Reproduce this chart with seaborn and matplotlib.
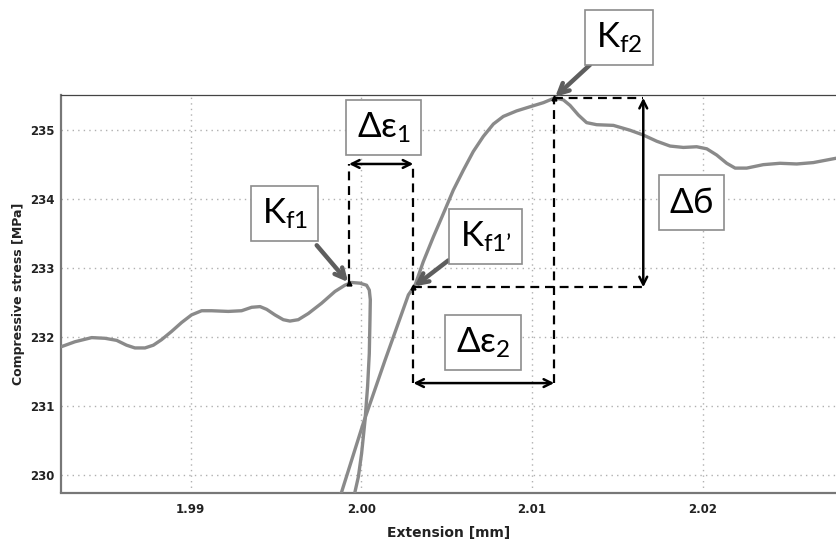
import matplotlib
matplotlib.use("Agg")
import matplotlib.pyplot as plt
import numpy as np
import pandas as pd
import seaborn as sns

# Stress-extension trace before the first load drop (Kf1) and its fall-off
ext_a = [1.98245, 1.98323, 1.98421, 1.98499, 1.98567, 1.98625, 1.98674, 1.98733,
         1.98782, 1.98830, 1.98889, 1.98948, 1.99006, 1.99065, 1.99123, 1.99221,
         1.99299, 1.99358, 1.99407, 1.99446, 1.99494, 1.99543, 1.99582, 1.99631,
         1.99690, 1.99768, 1.99846, 1.99904, 1.99944, 1.99992, 2.00031, 2.00047,
         2.00053, 2.00051, 2.00047, 2.00037, 2.00022, 2.00002, 1.99983, 1.99963]
stress_a = [231.86, 231.93, 231.99, 231.98, 231.95, 231.88, 231.84, 231.84,
            231.88, 231.96, 232.08, 232.21, 232.32, 232.38, 232.38, 232.37,
            232.38, 232.43, 232.44, 232.40, 232.32, 232.25, 232.23, 232.25,
            232.34, 232.49, 232.66, 232.75, 232.79, 232.78, 232.75, 232.68,
            232.54, 232.25, 231.76, 231.28, 230.79, 230.31, 229.97, 229.75]

# Reloading branch through Kf1' up to Kf2 and beyond
ext_b = [1.99870, 1.99885, 2.00012, 2.00139, 2.00276, 2.00315, 2.00363, 2.00422,
         2.00481, 2.00539, 2.00598, 2.00656, 2.00715, 2.00774, 2.00832, 2.00910,
         2.00988, 2.01067, 2.01135, 2.01184, 2.01223, 2.01272, 2.01320, 2.01379,
         2.01477, 2.01574, 2.01652, 2.01731, 2.01809, 2.01887, 2.01965, 2.02024,
         2.02082, 2.02141, 2.02190, 2.02258, 2.02355, 2.02453, 2.02551, 2.02648,
         2.02775, 2.02800]
stress_b = [229.65, 229.75, 230.75, 231.66, 232.61, 232.75, 233.09, 233.45,
            233.79, 234.13, 234.42, 234.69, 234.91, 235.09, 235.20, 235.28,
            235.34, 235.40, 235.47, 235.44, 235.36, 235.22, 235.11, 235.08,
            235.07, 235.00, 234.93, 234.84, 234.77, 234.75, 234.76, 234.73,
            234.64, 234.52, 234.45, 234.45, 234.50, 234.52, 234.51, 234.53,
            234.59, 234.60]

# Characteristic points
kf1 = (1.99928, 232.78)
kf1p = (2.00305, 232.72)
kf2 = (2.01130, 235.47)
de1_level = 234.51      # height of the first strain-gap arrow
de2_level = 231.33      # height of the second strain-gap arrow
dsig_x = 2.01652        # position of the stress-drop arrow

x_ticks = [1.99, 2.00, 2.01, 2.02]
x_tick_labels = ["1.99", "2.00", "2.01", "2.02"]
y_ticks = [230, 231, 232, 233, 234, 235]

sns.set_theme(style="white")
plt.rcParams["font.family"] = ["DejaVu Sans"]
plt.rcParams["mathtext.fontset"] = "custom"
plt.rcParams["mathtext.rm"] = "Lato"
plt.rcParams["mathtext.it"] = "Lato:italic"
plt.rcParams["mathtext.bf"] = "Lato:bold"
plt.rcParams["mathtext.fallback"] = "stixsans"

fig = plt.figure(figsize=(8.36, 5.40), dpi=100)
ax = fig.add_axes([61 / 836, 47.5 / 540, 1 - 61 / 836, 397.5 / 540])

curve_color = "#8a8a8a"
df_a = pd.DataFrame({"ext": ext_a, "stress": stress_a})
df_b = pd.DataFrame({"ext": ext_b, "stress": stress_b})
sns.lineplot(data=df_a, x="ext", y="stress", sort=False, estimator=None,
             color=curve_color, lw=2.4, ax=ax, zorder=3)
sns.lineplot(data=df_b, x="ext", y="stress", sort=False, estimator=None,
             color=curve_color, lw=2.4, ax=ax, zorder=3)

ax.set_xlim(1.98241, 2.02781)
ax.set_ylim(229.742, 235.511)

# Axes frame, ticks and grid
ax.set_xticks(x_ticks)
ax.set_xticklabels(x_tick_labels)
ax.set_yticks(y_ticks)
ax.set_xticks(np.arange(1.985, 2.028, 0.01), minor=True)
ax.set_yticks(np.arange(229.5, 235.6, 1.0)[1:], minor=True)
ax.tick_params(axis="both", which="both", direction="inout", length=5,
               width=1, color="#333333", labelsize=8.5, labelcolor="#222222")
ax.tick_params(axis="x", pad=5)
ax.tick_params(axis="y", pad=2)
for lab in ax.get_xticklabels() + ax.get_yticklabels():
    lab.set_fontweight("bold")
ax.grid(True, which="major", linestyle=(0, (1, 3)), color="#b0b0b0", lw=1)
for side in ("left", "bottom"):
    ax.spines[side].set_color("#777777")
    ax.spines[side].set_linewidth(1.6)
ax.spines["top"].set_color("#444444")
ax.spines["top"].set_linewidth(0.9)
ax.spines["right"].set_visible(False)

ax.set_xlabel("Extension [mm]", fontsize=10, fontweight="bold", color="#222222",
              labelpad=7)
ax.set_ylabel("Compressive stress [MPa]", fontsize=9, fontweight="bold",
              color="#222222", labelpad=4)

# Construction lines between characteristic points
dash = dict(color="black", lw=1.6, linestyle=(0, (4, 2.6)), zorder=4)
ax.plot([kf1[0], kf1[0]], [kf1[1], de1_level], **dash)
ax.plot([kf1p[0], kf1p[0]], [de2_level, de1_level], **dash)
ax.plot([kf1p[0], dsig_x], [kf1p[1], kf1p[1]], **dash)
ax.plot([kf2[0], kf2[0]], [de2_level, kf2[1]], **dash)
ax.plot([kf2[0], dsig_x], [kf2[1], kf2[1]], **dash)

double = dict(arrowstyle="<->", lw=1.8, color="black", shrinkA=0, shrinkB=0,
              mutation_scale=14)
ax.annotate("", xy=(kf1p[0], de1_level), xytext=(kf1[0], de1_level),
            arrowprops=double, zorder=5)
ax.annotate("", xy=(kf2[0], de2_level), xytext=(kf1p[0], de2_level),
            arrowprops=double, zorder=5)
ax.annotate("", xy=(dsig_x, kf1p[1]), xytext=(dsig_x, kf2[1]),
            arrowprops=double, zorder=5, annotation_clip=False)

# Small markers at the characteristic points
for px, py in (kf1, kf1p, kf2):
    ax.plot(px, py, marker="^", ms=3.5, color="black", zorder=6, clip_on=False)

# Labelled boxes
box = dict(boxstyle="square,pad=0.3", fc="white", ec="#8c8c8c", lw=1.2)
label_kw = dict(fontsize=25, ha="center", va="center", color="black",
                bbox=box, zorder=7, clip_on=False)
ax.text(1.99551, 233.79, r"$\mathrm{K_{f1}}$", **label_kw)
ax.text(2.00132, 235.04, r"$\mathrm{Δε_{1}}$", **label_kw)
ax.text(2.00729, 233.46, r"$\mathrm{K_{f1’}}$", **label_kw)
ax.text(2.01511, 236.34, r"$\mathrm{K_{f2}}$", **label_kw)
ax.text(2.01933, 233.95, r"$\mathrm{Δб}$", **label_kw)
ax.text(2.00713, 231.92, r"$\mathrm{Δε_{2}}$", **label_kw)

# Pointer arrows from the boxes to the points
pointer = dict(arrowstyle="->", lw=3.2, color="#5e5e5e", shrinkA=0, shrinkB=1,
               mutation_scale=18)
ax.annotate("", xy=kf1, xytext=(1.99739, 233.33), arrowprops=pointer, zorder=6)
ax.annotate("", xy=kf1p, xytext=(2.00510, 233.11), arrowprops=pointer, zorder=6)
ax.annotate("", xy=kf2, xytext=(2.01340, 235.95), arrowprops=pointer, zorder=6,
            annotation_clip=False)

fig.savefig("out.png", dpi=100)
